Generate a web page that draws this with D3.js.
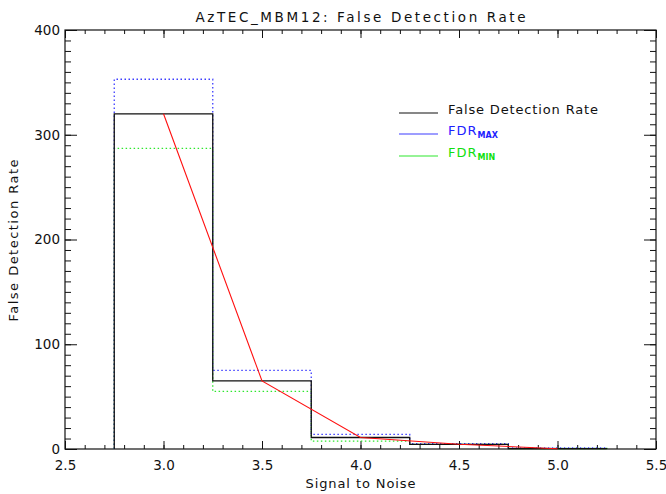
<!DOCTYPE html>
<html>
<head>
<meta charset="utf-8">
<script src="https://cdn.jsdelivr.net/npm/d3@7"></script>
<style>
  body { margin: 0; background: #fff; }
  text { font-family: "DejaVu Sans", sans-serif; }
</style>
</head>
<body>
<div id="chart"></div>
<script>
const width = 666;
const height = 494;
const margin = {top: 30, right: 10, bottom: 45, left: 65};

// data
const binCenters = [3.0, 3.5, 4.0, 4.5, 5.0];
const binWidth = 0.5;
const fdr = [320, 65, 11, 4.5, 0.3];
const fdrMax = [353, 75, 14, 5, 1];
const fdrMin = [287, 55, 7.5, 4.5, 0.5];
const xTicks = [2.5, 3.0, 3.5, 4.0, 4.5, 5.0, 5.5];
const yTicks = [0, 100, 200, 300, 400];

const blue = "#3c3cff";
const green = "#2ee82e";

const svg = d3.select("#chart")
    .append("svg")
    .attr("width", width)
    .attr("height", height);

const x = d3.scaleLinear().domain([2.5, 5.5]).range([margin.left, width - margin.right]);
const y = d3.scaleLinear().domain([0, 400]).range([height - margin.bottom, margin.top]);

const xMinor = d3.range(25, 56).map(d => d / 10);
const yMinor = d3.range(0, 401, 10);

// minor ticks on all four sides
function minor(axis, size) {
    return axis.tickSize(size).tickFormat("");
}
const plotH = height - margin.bottom;
const plotR = width - margin.right;

svg.append("g").attr("transform", `translate(0,${plotH})`)
    .call(minor(d3.axisBottom(x).tickValues(xMinor), -4));
svg.append("g").attr("transform", `translate(0,${margin.top})`)
    .call(minor(d3.axisTop(x).tickValues(xMinor), -4));
svg.append("g").attr("transform", `translate(${margin.left},0)`)
    .call(minor(d3.axisLeft(y).tickValues(yMinor), -6));
svg.append("g").attr("transform", `translate(${plotR},0)`)
    .call(minor(d3.axisRight(y).tickValues(yMinor), -6));

// major ticks
svg.append("g").attr("class", "xaxis").attr("transform", `translate(0,${plotH})`)
    .call(d3.axisBottom(x).tickValues(xTicks).tickSize(-8).tickPadding(11).tickFormat(d3.format(".1f")));
svg.append("g").attr("transform", `translate(0,${margin.top})`)
    .call(d3.axisTop(x).tickValues(xTicks).tickSize(-8).tickFormat(""));
svg.append("g").attr("class", "yaxis").attr("transform", `translate(${margin.left},0)`)
    .call(d3.axisLeft(y).tickValues(yTicks).tickSize(-12).tickPadding(5).tickFormat(d3.format("d")));
svg.append("g").attr("transform", `translate(${plotR},0)`)
    .call(d3.axisRight(y).tickValues(yTicks).tickSize(-12).tickFormat(""));

svg.selectAll(".domain").remove();
svg.selectAll(".tick line").attr("stroke", "#111");
svg.selectAll(".xaxis text, .yaxis text")
    .style("font-size", "13.5px")
    .attr("fill", "#111");

// frame
svg.append("rect")
    .attr("x", margin.left)
    .attr("y", margin.top)
    .attr("width", plotR - margin.left)
    .attr("height", plotH - margin.top)
    .attr("fill", "none")
    .attr("stroke", "#111")
    .attr("stroke-width", 1.2);

// histogram outlines (steps)
function stepPoints(values) {
    const pts = [[binCenters[0] - binWidth / 2, 0]];
    values.forEach((v, i) => {
        pts.push([binCenters[i] - binWidth / 2, v]);
        pts.push([binCenters[i] + binWidth / 2, v]);
    });
    pts.push([binCenters[binCenters.length - 1] + binWidth / 2, 0]);
    return pts;
}
const line = d3.line().x(d => x(d[0])).y(d => y(d[1]));

svg.append("path")
    .attr("d", line(stepPoints(fdrMin)))
    .attr("fill", "none")
    .attr("stroke", green)
    .attr("stroke-width", 1.3)
    .attr("stroke-dasharray", "1.5,2.5");

svg.append("path")
    .attr("d", line(stepPoints(fdrMax)))
    .attr("fill", "none")
    .attr("stroke", blue)
    .attr("stroke-width", 1.3)
    .attr("stroke-dasharray", "1.5,2.5");

svg.append("path")
    .attr("d", line(stepPoints(fdr)))
    .attr("fill", "none")
    .attr("stroke", "#111")
    .attr("stroke-width", 1.3);

// red line through bin centers
svg.append("path")
    .attr("d", line(binCenters.map((c, i) => [c, fdr[i]])))
    .attr("fill", "none")
    .attr("stroke", "#ff1010")
    .attr("stroke-width", 1.1);

// title and axis labels
svg.append("text")
    .attr("x", (margin.left + plotR) / 2)
    .attr("y", 22)
    .attr("text-anchor", "middle")
    .attr("textLength", 330)
    .attr("lengthAdjust", "spacing")
    .style("font-size", "13.5px")
    .attr("fill", "#111")
    .text("AzTEC_MBM12: False Detection Rate");

svg.append("text")
    .attr("x", (margin.left + plotR) / 2)
    .attr("y", 488)
    .attr("text-anchor", "middle")
    .attr("textLength", 110)
    .attr("lengthAdjust", "spacing")
    .style("font-size", "13px")
    .attr("fill", "#111")
    .text("Signal to Noise");

svg.append("text")
    .attr("transform", `translate(17.5,${(margin.top + plotH) / 2 + 1}) rotate(-90)`)
    .attr("text-anchor", "middle")
    .attr("textLength", 162)
    .attr("lengthAdjust", "spacing")
    .style("font-size", "13px")
    .attr("fill", "#111")
    .text("False Detection Rate");

// legend
const legend = [
    {name: "False Detection Rate", sub: null, color: "#111", text: "#111", y: 113},
    {name: "FDR", sub: "MAX", color: blue, text: "#2020ff", y: 134},
    {name: "FDR", sub: "MIN", color: green, text: "#10e010", y: 156}
];
const lg = svg.append("g");
legend.forEach(d => {
    lg.append("line")
        .attr("x1", 399).attr("x2", 438)
        .attr("y1", d.y).attr("y2", d.y)
        .attr("stroke", d.color)
        .attr("stroke-width", 1.2);
    const t = lg.append("text")
        .attr("x", 448)
        .attr("y", d.y + 1)
        .style("font-size", "13px")
        .attr("fill", d.text);
    if (d.sub) {
        t.append("tspan").style("letter-spacing", "1px").text(d.name);
        t.append("tspan")
            .attr("dy", 3)
            .style("font-size", "8px")
            .style("font-weight", "bold")
            .text(d.sub);
    } else {
        t.attr("textLength", 150).attr("lengthAdjust", "spacing").text(d.name);
    }
});
</script>
</body>
</html>
